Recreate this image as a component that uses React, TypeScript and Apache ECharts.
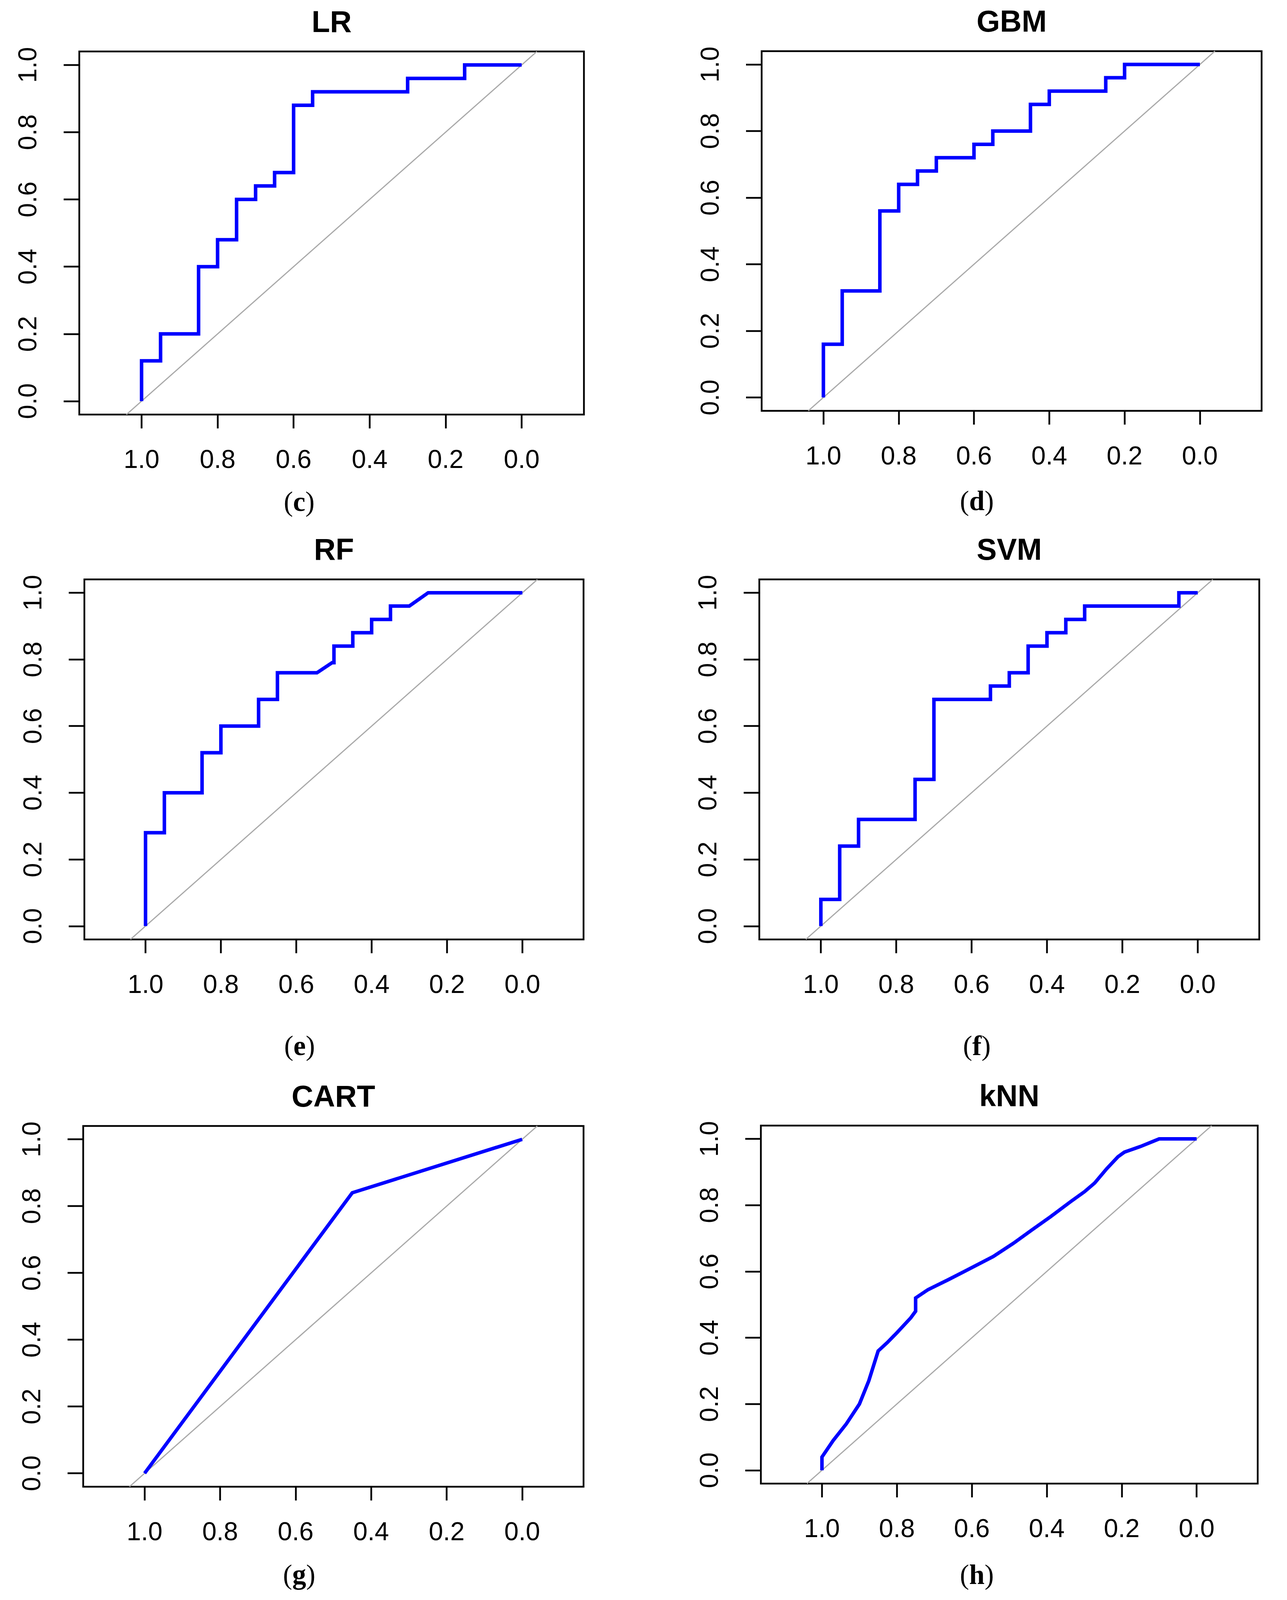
import React, { useEffect, useRef } from 'react';
import * as echarts from 'echarts';

const PAGE_W = 3295;
const PAGE_H = 4631;

const TICKS = [0, 0.2, 0.4, 0.6, 0.8, 1.0];
const TITLES = ['LR', 'GBM', 'RF', 'SVM', 'CART', 'kNN'];
const LETTERS = ['c', 'd', 'e', 'f', 'g', 'h'];

// chance diagonal, clipped at the plot box (y from -0.04 to 1.04)
const DIAG_SPEC = [1.04, -0.04];
const DIAG_SENS = [-0.04, 1.04];

const LR_SPEC = [1.0, 1.0, 0.95, 0.95, 0.85, 0.85, 0.8, 0.8, 0.75, 0.75, 0.7, 0.7, 0.65, 0.65, 0.6, 0.6, 0.55, 0.55, 0.3, 0.3, 0.15, 0.15, 0.0];
const LR_SENS = [0.0, 0.12, 0.12, 0.2, 0.2, 0.4, 0.4, 0.48, 0.48, 0.6, 0.6, 0.64, 0.64, 0.68, 0.68, 0.88, 0.88, 0.92, 0.92, 0.96, 0.96, 1.0, 1.0];

const GBM_SPEC = [1.0, 1.0, 0.95, 0.95, 0.85, 0.85, 0.8, 0.8, 0.75, 0.75, 0.7, 0.7, 0.6, 0.6, 0.55, 0.55, 0.45, 0.45, 0.4, 0.4, 0.25, 0.25, 0.2, 0.2, 0.0];
const GBM_SENS = [0.0, 0.16, 0.16, 0.32, 0.32, 0.56, 0.56, 0.64, 0.64, 0.68, 0.68, 0.72, 0.72, 0.76, 0.76, 0.8, 0.8, 0.88, 0.88, 0.92, 0.92, 0.96, 0.96, 1.0, 1.0];

const RF_SPEC = [1.0, 1.0, 0.95, 0.95, 0.85, 0.85, 0.8, 0.8, 0.7, 0.7, 0.65, 0.65, 0.545, 0.505, 0.5, 0.5, 0.45, 0.45, 0.4, 0.4, 0.35, 0.35, 0.3, 0.25, 0.0];
const RF_SENS = [0.0, 0.28, 0.28, 0.4, 0.4, 0.52, 0.52, 0.6, 0.6, 0.68, 0.68, 0.76, 0.76, 0.79, 0.79, 0.84, 0.84, 0.88, 0.88, 0.92, 0.92, 0.96, 0.96, 1.0, 1.0];

const SVM_SPEC = [1.0, 1.0, 0.95, 0.95, 0.9, 0.9, 0.75, 0.75, 0.7, 0.7, 0.55, 0.55, 0.5, 0.5, 0.45, 0.45, 0.4, 0.4, 0.35, 0.35, 0.3, 0.3, 0.05, 0.05, 0.0];
const SVM_SENS = [0.0, 0.08, 0.08, 0.24, 0.24, 0.32, 0.32, 0.44, 0.44, 0.68, 0.68, 0.72, 0.72, 0.76, 0.76, 0.84, 0.84, 0.88, 0.88, 0.92, 0.92, 0.96, 0.96, 1.0, 1.0];

const CART_SPEC = [1.0, 0.45, 0.0];
const CART_SENS = [0.0, 0.84, 1.0];

const KNN_SPEC = [1.0, 1.0, 0.97, 0.935, 0.9, 0.875, 0.85, 0.826, 0.8, 0.763, 0.75, 0.75, 0.717, 0.663, 0.62, 0.543, 0.489, 0.44, 0.39, 0.337, 0.3, 0.272, 0.24, 0.21, 0.193, 0.15, 0.1, 0.0];
const KNN_SENS = [0.0, 0.04, 0.09, 0.14, 0.2, 0.27, 0.36, 0.385, 0.415, 0.46, 0.48, 0.52, 0.545, 0.575, 0.6, 0.645, 0.685, 0.725, 0.765, 0.81, 0.84, 0.867, 0.91, 0.946, 0.96, 0.977, 1.0, 1.0];

const CURVES_SPEC = [LR_SPEC, GBM_SPEC, RF_SPEC, SVM_SPEC, CART_SPEC, KNN_SPEC];
const CURVES_SENS = [LR_SENS, GBM_SENS, RF_SENS, SVM_SENS, CART_SENS, KNN_SENS];

// plot boxes (px, in the 3295x4631 reference frame) and sub-figure label centres
const LAYOUT = [
  { left: 203, top: 149, width: 1292, height: 1051, lx: 766, ly: 1452 },
  { left: 1950, top: 148, width: 1280, height: 1041, lx: 2501, ly: 1449 },
  { left: 216, top: 1677, width: 1278, height: 1042, lx: 767, ly: 3027 },
  { left: 1944, top: 1677, width: 1280, height: 1042, lx: 2501, ly: 3027 },
  { left: 213, top: 3259, width: 1281, height: 1044, lx: 766, ly: 4557 },
  { left: 1948, top: 3258, width: 1272, height: 1036, lx: 2501, ly: 4557 },
];

const SANS = 'Liberation Sans, Arial, sans-serif';
const SERIF = 'Liberation Serif, Times New Roman, serif';

function buildOption(ky: number) {
  const fk = Math.sqrt(ky);
  const tickFont = Math.round(70 * fk);
  const titleFont = Math.round(82 * fk);
  const labFont = Math.round(76 * fk);
  const grid: any[] = [];
  const xAxis: any[] = [];
  const yAxis: any[] = [];
  const series: any[] = [];
  const graphic: any[] = [];

  LAYOUT.forEach((L, i) => {
    const top = L.top * ky;
    const height = L.height * ky;
    grid.push({
      left: L.left,
      top,
      width: L.width,
      height,
      show: true,
      borderColor: '#000',
      borderWidth: 4.5,
      backgroundColor: 'transparent',
      containLabel: false,
    });
    const half = (0.54 * L.width) / L.height;
    xAxis.push({
      gridIndex: i,
      type: 'value',
      inverse: true,
      min: 0.5 - half,
      max: 0.5 + half,
      axisLine: { show: false, onZero: false },
      splitLine: { show: false },
      axisTick: {
        show: true,
        customValues: TICKS,
        length: 40 * ky,
        lineStyle: { color: '#000', width: 4.5 },
      },
      axisLabel: {
        show: true,
        customValues: TICKS,
        formatter: (v: number) => v.toFixed(1),
        fontSize: tickFont,
        color: '#000',
        fontFamily: SANS,
        margin: 128 * ky - 0.49 * tickFont,
      },
    });
    yAxis.push({
      gridIndex: i,
      type: 'value',
      min: -0.04,
      max: 1.04,
      axisLine: { show: false, onZero: false },
      splitLine: { show: false },
      axisTick: {
        show: true,
        customValues: TICKS,
        length: 40,
        lineStyle: { color: '#000', width: 4.5 },
      },
      axisLabel: {
        show: true,
        customValues: TICKS,
        formatter: (v: number) => v.toFixed(1),
        rotate: 90,
        fontSize: tickFont,
        color: '#000',
        fontFamily: SANS,
        margin: 127 - 0.41 * tickFont,
      },
    });
    series.push({
      type: 'line',
      xAxisIndex: i,
      yAxisIndex: i,
      data: DIAG_SPEC.map((s, j) => [s, DIAG_SENS[j]]),
      symbol: 'none',
      silent: true,
      clip: false,
      lineStyle: { color: '#a9a9a9', width: 3 },
      z: 2,
    });
    const sp = CURVES_SPEC[i];
    const se = CURVES_SENS[i];
    series.push({
      type: 'line',
      name: TITLES[i],
      xAxisIndex: i,
      yAxisIndex: i,
      data: sp.map((s, j) => [s, se[j]]),
      symbol: 'none',
      clip: false,
      lineStyle: { color: '#0000ff', width: 9, join: 'miter', cap: 'butt' },
      z: 3,
    });
    graphic.push({
      type: 'text',
      x: L.left + L.width / 2,
      y: top - 87 * ky,
      style: {
        text: TITLES[i],
        fontSize: titleFont,
        fontWeight: 'bold',
        fontFamily: SANS,
        fill: '#000',
        align: 'center',
        verticalAlign: 'middle',
      },
    });
    graphic.push({
      type: 'text',
      x: L.lx,
      y: L.ly * ky,
      style: {
        text: '{p|(}{b|' + LETTERS[i] + '}{p|)}',
        align: 'center',
        verticalAlign: 'middle',
        rich: {
          p: { fontSize: labFont, fontFamily: SERIF, fill: '#000' },
          b: { fontSize: labFont, fontFamily: SERIF, fontWeight: 'bold', fill: '#000' },
        },
      },
    });
  });

  return {
    animation: false,
    backgroundColor: '#fff',
    grid,
    xAxis,
    yAxis,
    series,
    graphic,
  };
}

export default function App() {
  const ref = useRef<HTMLDivElement>(null);
  useEffect(() => {
    document.body.style.margin = '0';
    if (!ref.current) return;
    const vh = window.innerHeight || PAGE_H;
    const ky = vh < PAGE_H ? vh / PAGE_H : 1;
    const h = Math.floor(PAGE_H * ky);
    ref.current.style.height = h + 'px';
    const chart = echarts.init(ref.current, null, {
      renderer: 'svg',
      width: PAGE_W,
      height: h,
    });
    chart.setOption(buildOption(ky) as any);
    return () => {
      chart.dispose();
    };
  }, []);
  return (
    <div
      ref={ref}
      style={{ width: PAGE_W, height: PAGE_H, background: '#fff', overflow: 'hidden' }}
    />
  );
}
